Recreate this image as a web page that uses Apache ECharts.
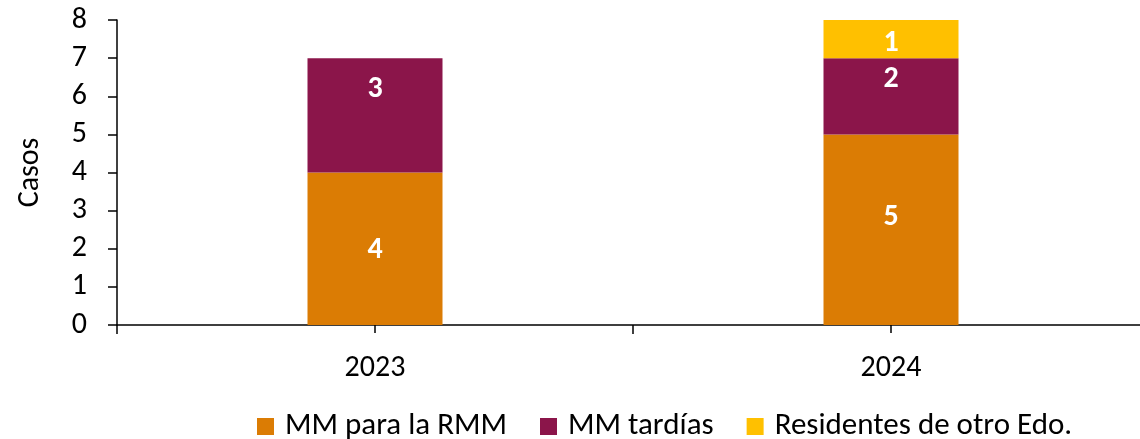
<!DOCTYPE html>
<html><head><meta charset="utf-8">
<script src="https://cdn.jsdelivr.net/npm/echarts@6/dist/echarts.min.js"></script>
<style>html,body{margin:0;padding:0;background:#fff}#c{width:1140px;height:439px}</style>
</head><body><div id="c"></div>
<script>
const categories = ['2023', '2024'];
const seriesNames = ['MM para la RMM', 'MM tardías', 'Residentes de otro Edo.'];
const mmRmm = [4, 5];
const mmTardias = [3, 2];
const residentes = [null, 1];
const yTicks = [0, 1, 2, 3, 4, 5, 6, 7, 8];

const FONT = 'Carlito, Lato, sans-serif';
const colors = ['#DB7C04', '#8B154A', '#FFC000'];
// label vertical nudges (style), per series per category
const nudges = [[2, -12], [-26, -17], [0, 4]];
const values = [mmRmm, mmTardias, residentes];

const chart = echarts.init(document.getElementById('c'));
const series = values.map((arr, si) => ({
  name: seriesNames[si],
  type: 'bar',
  stack: 'total',
  xAxisIndex: 0,
  barWidth: 135,
  itemStyle: { color: colors[si] },
  label: {
    show: true, position: 'inside', color: '#fff', fontWeight: 'bold',
    fontSize: 30, fontFamily: FONT
  },
  data: arr.map((v, ci) => v == null ? null : ({ value: v, label: { offset: [0, nudges[si][ci]] } }))
}));

chart.setOption({
  animation: false,
  textStyle: { fontFamily: FONT },
  grid: { left: 117, width: 1032, top: 20, bottom: 114, containLabel: false, outerBoundsMode: 'none' },
  legend: {
    top: 406, left: 252,
    itemWidth: 17, itemHeight: 17, itemGap: 33,
    icon: 'rect',
    textStyle: { fontSize: 31, color: '#000', fontFamily: FONT, padding: [0, 0, 0, 6] },
    data: seriesNames
  },
  xAxis: [{
    type: 'category', data: categories,
    axisLine: { lineStyle: { color: '#000', width: 1.5 } },
    axisTick: { show: true, length: 9, lineStyle: { color: '#000', width: 1.5 } },
    axisLabel: { fontSize: 30, color: '#000', margin: 28, fontFamily: FONT }
  }, {
    type: 'category', data: categories, position: 'bottom', gridIndex: 0,
    axisLine: { show: false },
    axisTick: { show: true, alignWithLabel: true, length: 8, lineStyle: { color: '#000', width: 1.5 } },
    axisLabel: { show: false }
  }],
  yAxis: {
    type: 'value', min: yTicks[0], max: yTicks[yTicks.length - 1], interval: 1,
    name: 'Casos', nameLocation: 'middle', nameGap: 72, nameRotate: 90,
    nameTextStyle: { fontSize: 30, color: '#000', fontFamily: FONT },
    splitLine: { show: false },
    axisLine: { show: true, lineStyle: { color: '#000', width: 1.5 } },
    axisTick: { show: true, length: 9, lineStyle: { color: '#000', width: 1.5 } },
    axisLabel: { fontSize: 30, color: '#000', margin: 30, fontFamily: FONT }
  },
  series: series
});
</script></body></html>
